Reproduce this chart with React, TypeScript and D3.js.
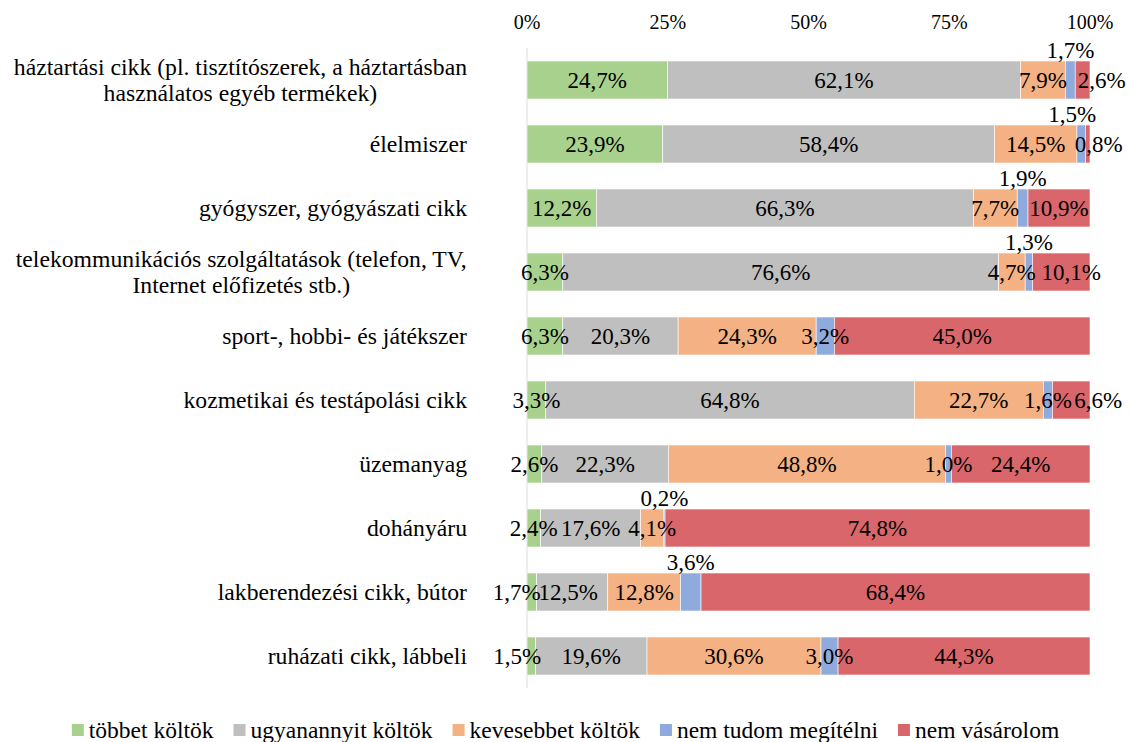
import React from "react";
import * as d3 from "d3";

// kategóriák (több soros címkék sortöréssel)
const categories = [
  "háztartási cikk (pl. tisztítószerek, a háztartásban\nhasználatos egyéb termékek)",
  "élelmiszer",
  "gyógyszer, gyógyászati cikk",
  "telekommunikációs szolgáltatások (telefon, TV,\nInternet előfizetés stb.)",
  "sport-, hobbi- és játékszer",
  "kozmetikai és testápolási cikk",
  "üzemanyag",
  "dohányáru",
  "lakberendezési cikk, bútor",
  "ruházati cikk, lábbeli",
];

const seriesNames = [
  "többet költök",
  "ugyanannyit költök",
  "kevesebbet költök",
  "nem tudom megítélni",
  "nem vásárolom",
];

const tobbet = [24.7, 23.9, 12.2, 6.3, 6.3, 3.3, 2.6, 2.4, 1.7, 1.5];
const ugyanannyi = [62.1, 58.4, 66.3, 76.6, 20.3, 64.8, 22.3, 17.6, 12.5, 19.6];
const kevesebbet = [7.9, 14.5, 7.7, 4.7, 24.3, 22.7, 48.8, 4.1, 12.8, 30.6];
const nemTudom = [1.7, 1.5, 1.9, 1.3, 3.2, 1.6, 1.0, 0.2, 3.6, 3.0];
const nemVasarol = [2.6, 0.8, 10.9, 10.1, 45.0, 6.6, 24.4, 74.8, 68.4, 44.3];

const tickValues = [0, 0.25, 0.5, 0.75, 1];

const colors = ["#a9d18e", "#bfbfbf", "#f4b183", "#8faadc", "#d9666a"];

// címke-igazítások (Excelben kézzel mozgatott címkék)
const labelAbove = new Set(["0-3", "1-3", "2-3", "3-3", "7-3", "8-3"]);
const labelShift: Record<string, number> = {
  "0-4": 19, "1-4": 11, "3-4": 10, "5-4": 27, "1-3": -9, "8-0": -15, "9-0": -14, "8-1": -4,
};

const W = 1131, H = 742;
const FONT = "'Liberation Serif'";
const CAT_SIZE = 23.7, LBL_SIZE = 23, TICK_SIZE = 20, LEG_SIZE = 23.5;

let ctx: CanvasRenderingContext2D | null = null;
function measure(s: string, size: number) {
  if (!ctx) ctx = document.createElement("canvas").getContext("2d");
  if (!ctx) return s.length * size * 0.42;
  ctx.font = `${size}px 'Liberation Serif'`;
  return ctx.measureText(s).width;
}

export default function App() {
  const keys = seriesNames;
  const rows = categories.map((c, i) => ({
    cat: c,
    [keys[0]]: tobbet[i],
    [keys[1]]: ugyanannyi[i],
    [keys[2]]: kevesebbet[i],
    [keys[3]]: nemTudom[i],
    [keys[4]]: nemVasarol[i],
  }));
  const stacked = d3.stack<any>().keys(keys).offset(d3.stackOffsetExpand)(rows);

  const x = d3.scaleLinear().domain([0, 1]).range([527, 1090]);
  const y = d3.scaleBand().domain(categories).range([48, 688])
    .paddingInner(0.40625).paddingOuter(0.203125);
  const bw = y.bandwidth();
  const fmt = (v: number) => v.toFixed(1).replace(".", ",") + "%";
  const txt = (size: number) => ({ fontFamily: FONT, fontSize: `${size}px` });

  // jelmagyarázat elrendezése
  const legItems: { name: string; color: string; x: number }[] = [];
  let cx = 0;
  seriesNames.forEach((n, i) => {
    legItems.push({ name: n, color: colors[i], x: cx });
    cx += 12 + 5 + measure(n, LEG_SIZE) + 20;
  });
  const legW = cx - 20;
  const legX0 = (W - legW) / 2;

  return (
    <svg width={W} height={H} style={{ position: "absolute", left: 0, top: 0, background: "#fff" }}>
      <line x1={x(0)} x2={x(0)} y1={48} y2={688} stroke="#d9d9d9" strokeWidth={1} />

      {tickValues.map(t => (
        <text key={t} x={x(t)} y={22} textAnchor="middle" dominantBaseline="central" style={txt(TICK_SIZE)}>
          {d3.format(".0%")(t)}
        </text>
      ))}

      {stacked.map((s, si) => (
        <g key={s.key}>
          {s.map((d, ri) => (
            <rect key={ri} x={x(d[0])} width={x(d[1]) - x(d[0])} y={y(d.data.cat)} height={bw}
              fill={colors[si]} stroke="#ffffff" strokeWidth={0.6} />
          ))}
        </g>
      ))}

      {stacked.map((s, si) => (
        <g key={"l" + s.key}>
          {s.map((d, ri) => {
            const k = `${ri}-${si}`;
            const lx = (x(d[0]) + x(d[1])) / 2 + (labelShift[k] || 0);
            const ly = labelAbove.has(k) ? y(d.data.cat)! - 11 : y(d.data.cat)! + bw / 2;
            return (
              <text key={ri} x={lx} y={ly} textAnchor="middle" dominantBaseline="central"
                fill="#000" style={txt(LBL_SIZE)}>
                {fmt(d.data[keys[si]])}
              </text>
            );
          })}
        </g>
      ))}

      {categories.map(c => {
        const lines = c.split("\n");
        const cy = y(c)! + bw / 2;
        const w = Math.max(...lines.map(l => measure(l, CAT_SIZE)));
        const mid = 467 - w / 2;
        return (
          <text key={c} textAnchor="middle" dominantBaseline="central" style={txt(CAT_SIZE)}>
            {lines.map((ln, li) => (
              <tspan key={li} x={mid} y={cy + (li - (lines.length - 1) / 2) * 26}>{ln}</tspan>
            ))}
          </text>
        );
      })}

      <g transform={`translate(${legX0},730)`}>
        {legItems.map(it => (
          <g key={it.name} transform={`translate(${it.x},0)`}>
            <rect x={0} y={-6} width={12} height={12} fill={it.color} />
            <text x={17} y={0} dominantBaseline="central" style={txt(LEG_SIZE)}>{it.name}</text>
          </g>
        ))}
      </g>
    </svg>
  );
}
